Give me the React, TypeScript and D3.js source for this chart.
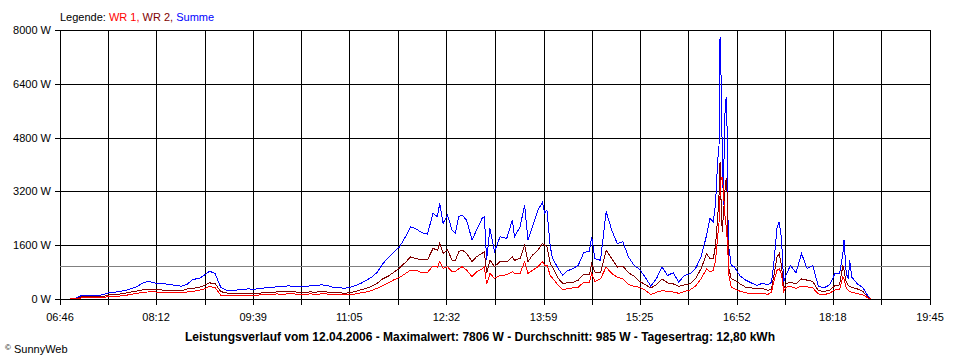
import { useEffect } from 'react'
import * as d3 from 'd3'

// Messzeitpunkte (hh:mm) und Leistung in W
const times = [
  '06:55', '07:00', '07:05', '07:10', '07:15', '07:20', '07:25', '07:30', '07:35', '07:40',
  '07:45', '07:50', '07:55', '08:00', '08:05', '08:10', '08:15', '08:20', '08:25', '08:30',
  '08:35', '08:40', '08:45', '08:50', '08:55', '09:00', '09:05', '09:10', '09:15', '09:20',
  '09:25', '09:30', '09:35', '09:40', '09:45', '09:50', '09:55', '10:00', '10:05', '10:10',
  '10:15', '10:20', '10:25', '10:30', '10:35', '10:40', '10:45', '10:50', '10:55', '11:00',
  '11:05', '11:10', '11:15', '11:20', '11:25', '11:30', '11:35', '11:40', '11:45', '11:50',
  '11:55', '12:00', '12:05', '12:10', '12:15', '12:20', '12:24', '12:26', '12:29', '12:33',
  '12:37', '12:40', '12:43', '12:46', '12:50', '12:55', '12:59', '13:04', '13:06', '13:08',
  '13:11', '13:15', '13:20', '13:26', '13:31', '13:33', '13:38', '13:42', '13:45', '13:49',
  '13:54', '13:58', '14:00', '14:02', '14:05', '14:07', '14:12', '14:16', '14:20',
  '14:25', '14:30', '14:35', '14:40', '14:42', '14:45', '14:50', '14:55', '15:00', '15:05',
  '15:10', '15:15', '15:20', '15:25', '15:30', '15:35', '15:40', '15:45', '15:50', '15:55',
  '16:00', '16:05', '16:10', '16:15', '16:20', '16:25', '16:28', '16:31', '16:33', '16:35',
  '16:36', '16:37', '16:38', '16:39', '16:40', '16:41', '16:42', '16:43', '16:44', '16:45',
  '16:47', '16:50', '16:55', '17:00', '17:05', '17:10', '17:15', '17:20', '17:23', '17:25',
  '17:28', '17:30', '17:32', '17:34', '17:36', '17:40', '17:45', '17:50', '17:55', '18:00',
  '18:05', '18:10', '18:15', '18:20', '18:24', '18:27', '18:28', '18:30', '18:32', '18:33',
  '18:35', '18:40', '18:45', '18:50', '18:52',
]

const summe = [
  0, 20, 100, 110, 100, 105, 130, 190, 200, 230,
  260, 310, 370, 470, 530, 480, 450, 450, 430, 400,
  380, 440, 590, 600, 700, 830, 750, 340, 260, 250,
  270, 290, 300, 290, 320, 330, 350, 360, 370, 390,
  380, 360, 370, 390, 400, 420, 410, 350, 340, 320,
  340, 390, 460, 550, 650, 790, 1050, 1230, 1400, 1550,
  1830, 2150, 2080, 1970, 1930, 2549, 2448, 2846, 2251, 2498,
  2052, 1953, 2450, 2498, 2349, 1755, 2052, 2400, 2448, 1160,
  2100, 1407, 1850, 1800, 2349, 1850, 2150, 2796, 1755, 2150,
  2647, 2870, 2550, 2647, 1556, 1210, 912, 714, 830,
  900, 1000, 1380, 1420, 1850, 1200, 1150, 2600, 2050, 1650,
  1700, 1250, 1000, 880, 650, 380, 600, 950, 700, 780,
  500, 700, 750, 900, 1250, 1900, 2400, 2300, 2850, 4200,
  4300, 7806, 6500, 4300, 2800, 5200, 5900, 6000, 2500, 1500,
  1000, 950, 680, 560, 480, 400, 470, 420, 500, 1000,
  2100, 2300, 1800, 500, 700, 1000, 780, 1350, 900, 1000,
  380, 330, 420, 760, 760, 1350, 1750, 750, 600, 1150,
  650, 450, 330, 60, 10,
]

const wr2 = [
  0, 10, 60, 65, 60, 60, 80, 120, 130, 150,
  180, 210, 240, 270, 280, 270, 270, 265, 260, 250,
  245, 300, 320, 340, 400, 480, 450, 220, 180, 170,
  160, 170, 165, 170, 175, 200, 200, 210, 220, 215,
  215, 200, 200, 210, 205, 215, 210, 190, 185, 175,
  180, 220, 270, 310, 380, 470, 600, 680, 800, 920,
  1080, 1250, 1200, 1160, 1160, 1507, 1450, 1656, 1358, 1457,
  1160, 1150, 1400, 1457, 1358, 1110, 1259, 1358, 1407, 764,
  1160, 961, 1110, 1100, 1259, 1150, 1210, 1606, 1110, 1300,
  1457, 1656, 1600, 1560, 1050, 961, 616, 467, 480,
  490, 560, 740, 720, 1050, 800, 780, 1450, 1200, 950,
  980, 780, 680, 520, 430, 330, 420, 600, 480, 450,
  380, 420, 450, 600, 900, 1350, 1200, 1200, 1600, 2500,
  3000, 4080, 2800, 2000, 2500, 3000, 3500, 3600, 1900, 900,
  600, 560, 450, 350, 330, 300, 310, 260, 300, 650,
  1250, 1350, 1000, 300, 450, 500, 450, 600, 560, 520,
  250, 220, 260, 400, 420, 1000, 850, 500, 400, 380,
  350, 300, 220, 30, 5,
]

const wr1 = [
  0, 5, 30, 40, 40, 45, 50, 70, 75, 90,
  110, 140, 170, 195, 210, 210, 205, 200, 195, 185,
  180, 210, 230, 250, 300, 380, 330, 110, 90, 100,
  110, 110, 115, 110, 120, 140, 140, 150, 145, 150,
  150, 145, 140, 150, 145, 150, 150, 130, 125, 120,
  125, 145, 180, 205, 250, 320, 400, 480, 570, 640,
  750, 860, 850, 780, 790, 981, 950, 1110, 912, 960,
  812, 820, 900, 961, 862, 664, 812, 900, 961, 436,
  760, 616, 700, 720, 812, 760, 764, 1110, 760, 850,
  961, 1110, 1000, 1010, 700, 616, 416, 288, 300,
  330, 350, 500, 480, 760, 520, 600, 950, 760, 650,
  600, 430, 380, 350, 260, 130, 200, 250, 230, 210,
  170, 220, 270, 380, 600, 900, 800, 850, 1150, 1900,
  2200, 3100, 3600, 3600, 3300, 2600, 2300, 2000, 1400, 700,
  350, 300, 230, 180, 170, 170, 165, 140, 200, 500,
  850, 900, 750, 230, 350, 370, 320, 380, 360, 330,
  150, 130, 170, 270, 270, 660, 600, 330, 250, 220,
  200, 160, 120, 20, 3,
]

const xTickLabels = ['06:46', '08:12', '09:39', '11:05', '12:32', '13:59', '15:25', '16:52', '18:18', '19:45']
const yTicks = [0, 1600, 3200, 4800, 6400, 8000]
const average = 985

const W = 960
const H = 360
const left = 60
const right = 930
const top = 30
const bottom = 299
const font = '"Liberation Sans", Arial, sans-serif'

const toMin = (s: string) => {
  const [h, m] = s.split(':').map(Number)
  return h * 60 + m
}

export default function App() {
  useEffect(() => {
    document.body.style.margin = '0'
  }, [])

  const tickMins = xTickLabels.map(toMin)
  const x = d3.scaleLinear().domain([tickMins[0], tickMins[tickMins.length - 1]]).range([left, right])
  const y = d3.scaleLinear().domain([0, 8000]).range([bottom, top])

  // Gitter: beschriftete Ticks plus Zwischenlinien
  const gridMins: number[] = []
  tickMins.forEach((m, i) => {
    gridMins.push(m)
    if (i < tickMins.length - 1) gridMins.push((m + tickMins[i + 1]) / 2)
  })

  const px = (v: number) => Math.round(v) + 0.5
  const mins = times.map(toMin)
  const line = (vals: number[]) =>
    d3.line<number>()
      .x((_, i) => x(mins[i]))
      .y(d => y(d))(vals) || ''

  return (
    <svg width={W} height={H} style={{ display: 'block', background: '#fff' }} fontFamily={font}>
      <text x={60} y={21} fontSize={11}>
        <tspan fill="#000">Legende: </tspan>
        <tspan fill="#ff0000">WR 1, </tspan>
        <tspan fill="#800000">WR 2, </tspan>
        <tspan fill="#0000ff">Summe</tspan>
      </text>

      <g shapeRendering="crispEdges" stroke="#000" strokeWidth={1}>
        {yTicks.map(v => (
          <line key={'h' + v} x1={left - 5} x2={right + 0.5} y1={px(y(v))} y2={px(y(v))} />
        ))}
        {gridMins.map(m => (
          <line key={'v' + m} x1={px(x(m))} x2={px(x(m))} y1={top} y2={bottom + 6} />
        ))}
      </g>

      {yTicks.map(v => (
        <text key={'yl' + v} x={51} y={y(v) + 4} fontSize={11} textAnchor="end" fill="#000">
          {v} W
        </text>
      ))}
      {xTickLabels.map((l, i) => (
        <text key={'xl' + l} x={x(tickMins[i])} y={321} fontSize={11} textAnchor="middle" fill="#000">
          {l}
        </text>
      ))}

      <line x1={left} x2={right} y1={px(y(average))} y2={px(y(average))} stroke="#808080" shapeRendering="crispEdges" />

      <g fill="none" strokeWidth={1} shapeRendering="crispEdges">
        <path d={line(summe)} stroke="#0000ff" />
        <path d={line(wr2)} stroke="#800000" />
        <path d={line(wr1)} stroke="#ff0000" />
      </g>

      <text x={480} y={341} fontSize={12} fontWeight="bold" textAnchor="middle" fill="#000">
        Leistungsverlauf vom 12.04.2006 - Maximalwert: 7806 W - Durchschnitt: 985 W - Tagesertrag: 12,80 kWh
      </text>
      <text x={5} y={353} fontSize={11} fill="#000">
        <tspan fontSize={8} dy={-3}>©</tspan>
        <tspan dy={3}> SunnyWeb</tspan>
      </text>
    </svg>
  )
}
